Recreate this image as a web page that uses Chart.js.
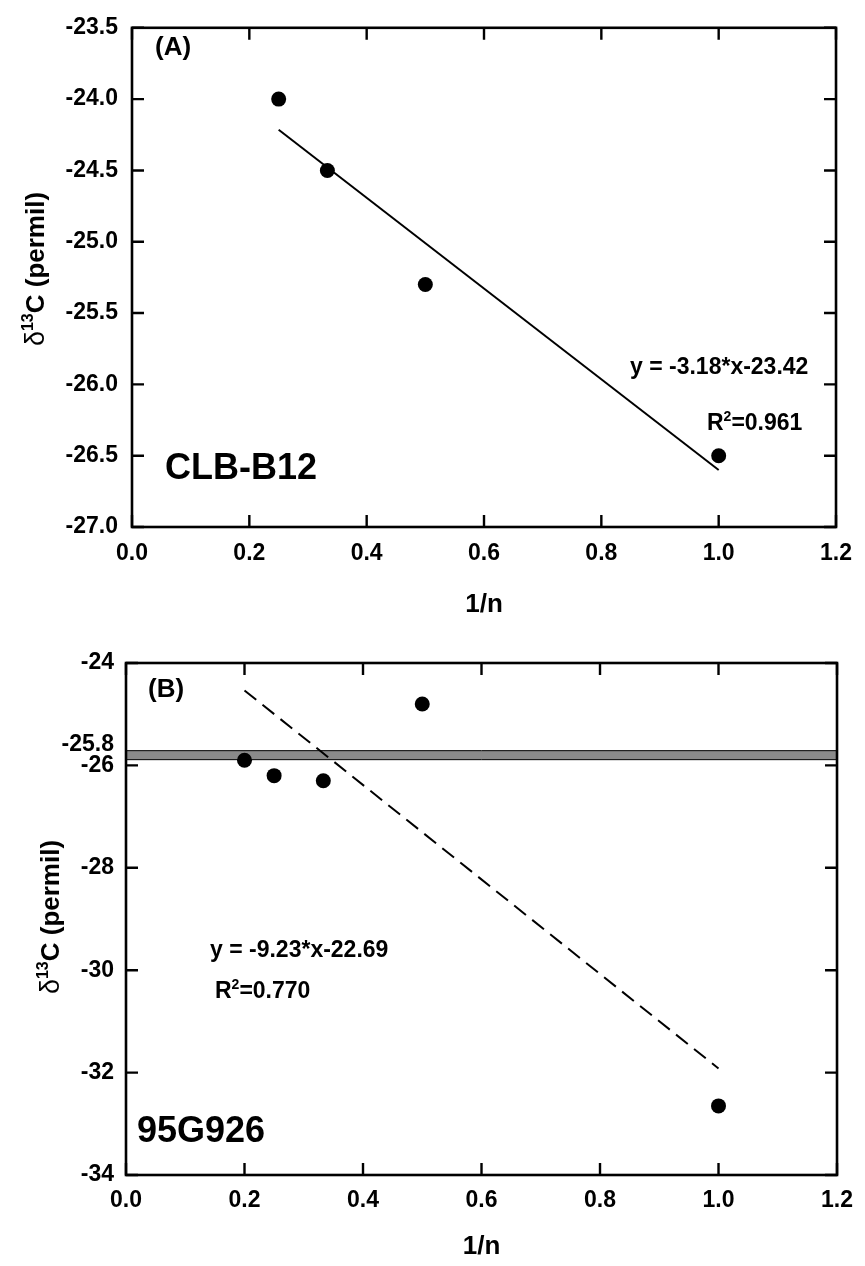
<!DOCTYPE html>
<html lang="en">
<head>
<meta charset="UTF-8">
<title>δ13C versus 1/n</title>
<style>
    body { margin: 0; background: #fff; }
    canvas { position: absolute; left: 0; }
    #panelA { top: 0; }
    #panelB { top: 620px; }
</style>
<script src="https://cdn.jsdelivr.net/npm/chart.js"></script>
</head>
<body>
<canvas id="panelA" width="865" height="620"></canvas>
<canvas id="panelB" width="865" height="646"></canvas>
<script>
// (A) CLB-B12
const invNA = [0.25, 0.333, 0.5, 1.0];
const d13cA = [-24.0, -24.5, -25.3, -26.5];
const fitA = { slope: -3.18, intercept: -23.42, r2: '0.961' };
const fitRangeA = [0.25, 1.0];
const yTicksA = [-27.0, -26.5, -26.0, -25.5, -25.0, -24.5, -24.0, -23.5];

// (B) 95G926
const invNB = [0.2, 0.25, 0.333, 0.5, 1.0];
const d13cB = [-25.9, -26.2, -26.3, -24.8, -32.65];
const fitB = { slope: -9.23, intercept: -22.69, r2: '0.770' };
const fitRangeB = [0.2, 1.0];
const bulkB = -25.8;
const yTicksB = [-34, -32, -30, -28, -26, -24];

const xTicks = [0.0, 0.2, 0.4, 0.6, 0.8, 1.0, 1.2];

const FAMILY = '"Liberation Sans", Arial, sans-serif';

// draws a row of text pieces (used for superscripts)
function drawRuns(ctx, runs, x, y, align) {
    let total = 0;
    runs.forEach(r => {
        ctx.font = r.font;
        r.w = ctx.measureText(r.text).width;
        total += r.w;
    });
    let cx = align === 'center' ? x - total / 2 : x;
    runs.forEach(r => {
        ctx.font = r.font;
        ctx.fillText(r.text, cx, y + (r.dy || 0));
        cx += r.w;
    });
}

function eqText(fit) {
    return 'y = ' + fit.slope.toFixed(2) + '*x' + fit.intercept.toFixed(2);
}

function makePanel(id, o) {
    const points = o.x.map((x, i) => ({ x: x, y: o.y[i] }));
    const line = o.fitRange.map(x => ({ x: x, y: o.fit.slope * x + o.fit.intercept }));

    const decor = {
        id: 'decor',
        beforeDatasetsDraw(chart) {
            if (o.band === undefined) return;
            const { ctx, chartArea: a, scales } = chart;
            const yb = scales.y.getPixelForValue(o.band);
            ctx.save();
            ctx.fillStyle = '#8a8a8a';
            ctx.fillRect(a.left, yb - 4.5, a.right - a.left, 9);
            ctx.strokeStyle = '#000';
            ctx.lineWidth = 1;
            ctx.beginPath();
            ctx.moveTo(a.left, yb - 4.5); ctx.lineTo(a.right, yb - 4.5);
            ctx.moveTo(a.left, yb + 4.5); ctx.lineTo(a.right, yb + 4.5);
            ctx.stroke();
            // band value, written at the band's upper edge on the axis
            ctx.fillStyle = '#000';
            ctx.font = 'bold 23px ' + FAMILY;
            ctx.textAlign = 'right';
            ctx.textBaseline = 'alphabetic';
            ctx.fillText(o.band.toFixed(1), a.left - o.yPad, yb - 4);
            ctx.restore();
        },
        afterDraw(chart) {
            const { ctx, chartArea: a, scales } = chart;
            ctx.save();
            ctx.strokeStyle = '#000';
            ctx.lineWidth = 2.6;
            ctx.strokeRect(a.left, a.top, a.right - a.left, a.bottom - a.top);
            ctx.lineWidth = 2.4;
            ctx.beginPath();
            const tl = 12;
            xTicks.forEach(v => {
                const px = scales.x.getPixelForValue(v);
                ctx.moveTo(px, a.bottom); ctx.lineTo(px, a.bottom - tl);
                ctx.moveTo(px, a.top); ctx.lineTo(px, a.top + tl);
            });
            o.yTicks.forEach(v => {
                const py = scales.y.getPixelForValue(v);
                ctx.moveTo(a.left, py); ctx.lineTo(a.left + tl, py);
                ctx.moveTo(a.right, py); ctx.lineTo(a.right - tl, py);
            });
            ctx.stroke();

            ctx.fillStyle = '#000';
            ctx.textAlign = 'left';
            ctx.textBaseline = 'alphabetic';
            ctx.font = 'bold 26px ' + FAMILY;
            ctx.fillText(o.tag, o.tagPos[0], o.tagPos[1]);
            ctx.font = 'bold 36px ' + FAMILY;
            ctx.fillText(o.sample, o.samplePos[0], o.samplePos[1]);
            ctx.font = 'bold 23px ' + FAMILY;
            ctx.fillText(eqText(o.fit), o.eqPos[0], o.eqPos[1]);
            drawRuns(ctx, [
                { text: 'R', font: 'bold 23px ' + FAMILY },
                { text: '2', font: 'bold 14px ' + FAMILY, dy: -9 },
                { text: '=' + o.fit.r2, font: 'bold 23px ' + FAMILY }
            ], o.r2Pos[0], o.r2Pos[1], 'left');

            // axis titles
            ctx.textAlign = 'center';
            ctx.font = 'bold 26px ' + FAMILY;
            ctx.fillText('1/n', (a.left + a.right) / 2, o.xTitleY);
            ctx.textAlign = 'left';
            ctx.translate(o.yTitle[0], o.yTitle[1]);
            ctx.rotate(-Math.PI / 2);
            drawRuns(ctx, [
                { text: 'δ', font: '27px ' + FAMILY },
                { text: '13', font: 'bold 16px ' + FAMILY, dy: -11 },
                { text: 'C (permil)', font: 'bold 26px ' + FAMILY }
            ], 0, 0, 'center');
            ctx.restore();
        }
    };

    const tickFont = { family: FAMILY, size: 23, weight: 'bold' };

    return new Chart(document.getElementById(id), {
        type: 'scatter',
        data: {
            datasets: [
                {
                    data: points,
                    pointRadius: 7.5,
                    pointHoverRadius: 7.5,
                    backgroundColor: '#000',
                    borderWidth: 0
                },
                {
                    type: 'line',
                    data: line,
                    borderColor: '#000',
                    borderWidth: 2,
                    borderDash: o.dash,
                    pointRadius: 0,
                    fill: false,
                    tension: 0
                }
            ]
        },
        options: {
            responsive: false,
            animation: false,
            events: [],
            layout: { padding: o.padding },
            plugins: { legend: { display: false }, tooltip: { enabled: false } },
            scales: {
                x: {
                    type: 'linear',
                    min: 0,
                    max: 1.2,
                    grid: { display: false, drawTicks: false },
                    border: { display: false },
                    afterBuildTicks: s => { s.ticks = xTicks.map(v => ({ value: v })); },
                    afterFit: s => { s.height = o.xAxisHeight; },
                    ticks: {
                        font: tickFont, color: '#000', padding: o.xPad,
                        autoSkip: false, maxRotation: 0,
                        callback: v => v.toFixed(1)
                    }
                },
                y: {
                    type: 'linear',
                    min: o.yMin,
                    max: o.yMax,
                    grid: { display: false, drawTicks: false },
                    border: { display: false },
                    afterBuildTicks: s => { s.ticks = o.yTicks.map(v => ({ value: v })); },
                    afterFit: s => { s.width = o.yAxisWidth; },
                    ticks: {
                        font: tickFont, color: '#000', padding: o.yPad,
                        autoSkip: false,
                        callback: o.yFormat
                    }
                }
            }
        },
        plugins: [decor]
    });
}

makePanel('panelA', {
    x: invNA, y: d13cA, fit: fitA, fitRange: fitRangeA, dash: [],
    yMin: -27, yMax: -23.5, yTicks: yTicksA, yFormat: v => v.toFixed(1),
    padding: { top: 16, right: 21, bottom: 0, left: 0 },
    yAxisWidth: 132, xAxisHeight: 93, xPad: 13, yPad: 14,
    tag: '(A)', tagPos: [155, 55],
    sample: 'CLB-B12', samplePos: [165, 479],
    eqPos: [630, 374], r2Pos: [707, 430],
    xTitleY: 612, yTitle: [44, 269]
});

makePanel('panelB', {
    x: invNB, y: d13cB, fit: fitB, fitRange: fitRangeB, dash: [15, 8],
    band: bulkB,
    yMin: -34, yMax: -24, yTicks: yTicksB, yFormat: v => String(v),
    padding: { top: 43, right: 26, bottom: 0, left: 0 },
    yAxisWidth: 126, xAxisHeight: 91, xPad: 12, yPad: 12,
    tag: '(B)', tagPos: [148, 77],
    sample: '95G926', samplePos: [137, 522],
    eqPos: [210, 337], r2Pos: [215, 378],
    xTitleY: 634, yTitle: [59, 297]
});
</script>
</body>
</html>
